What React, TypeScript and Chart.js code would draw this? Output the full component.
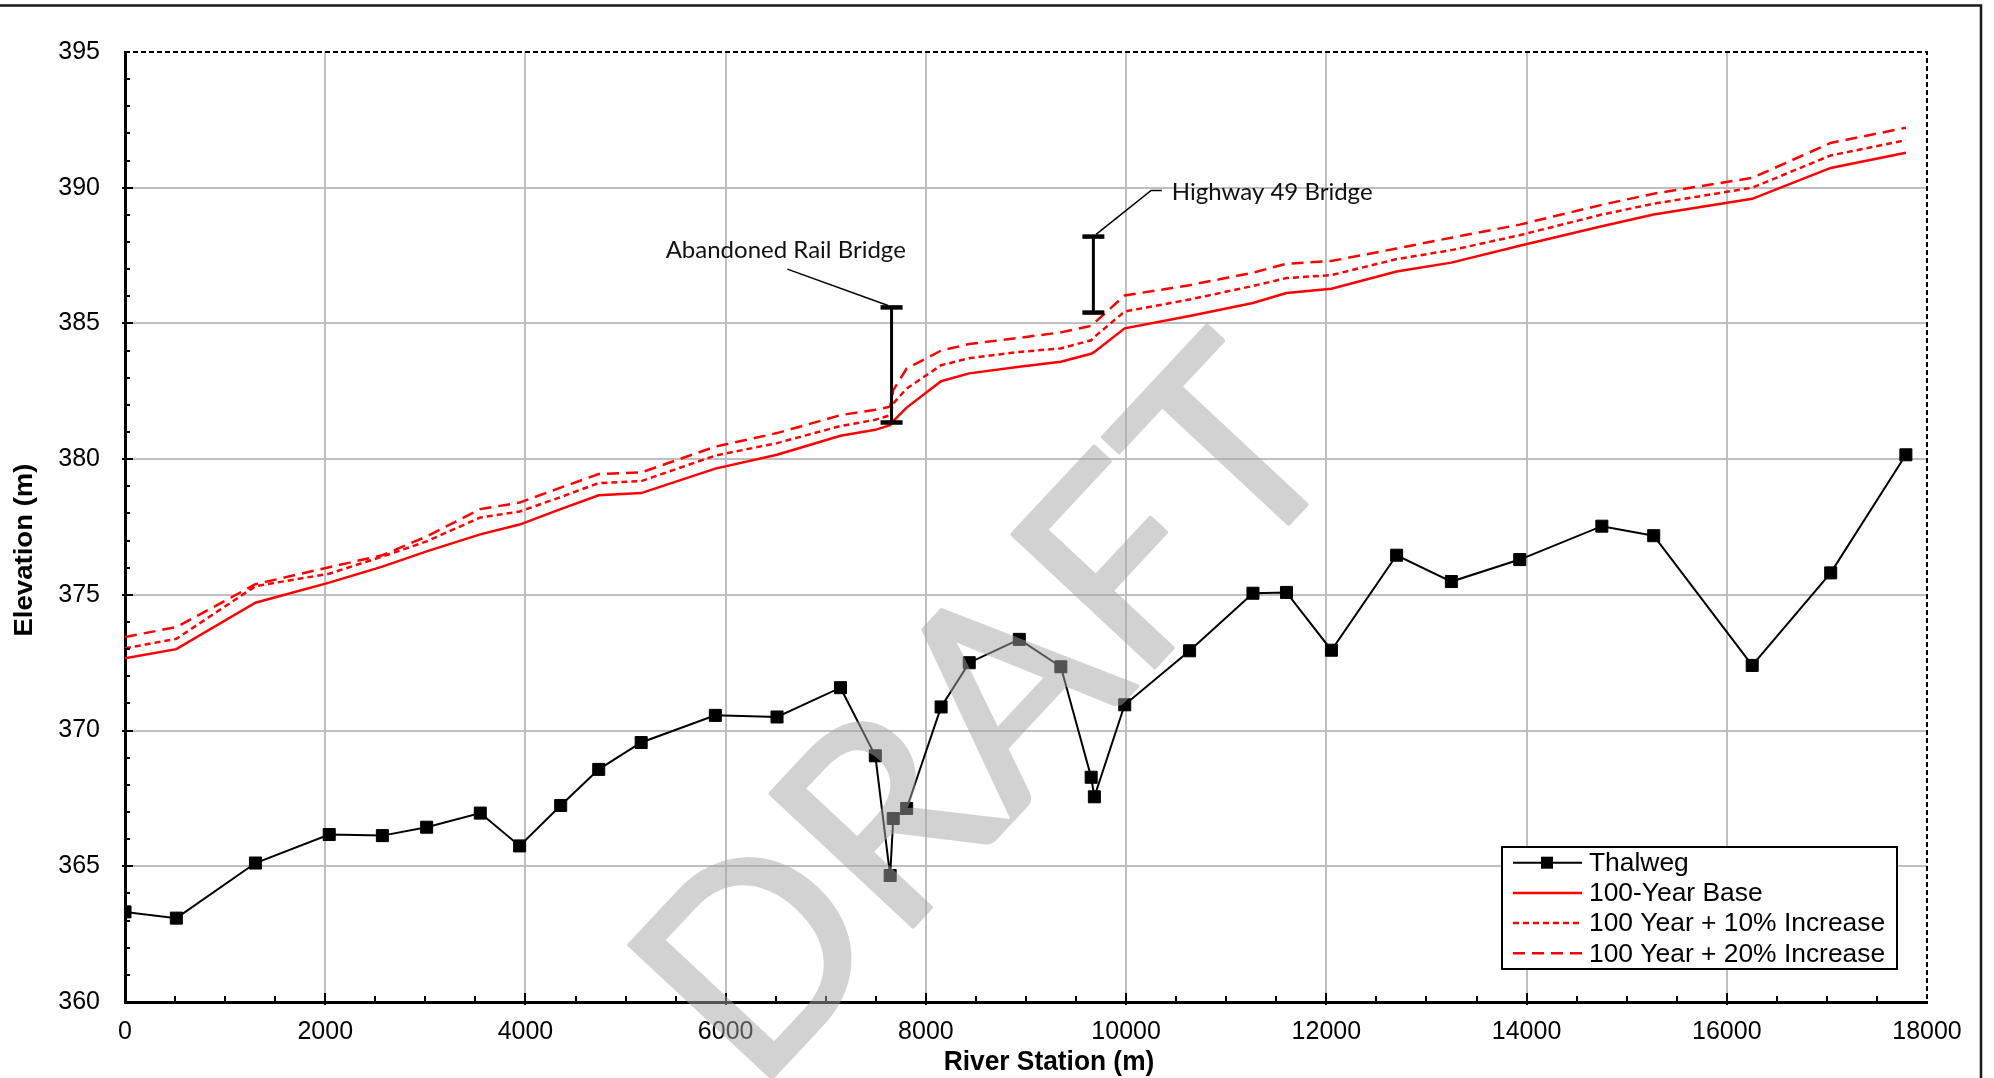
import React, { useEffect, useRef } from 'react';
import { Chart, registerables } from 'chart.js';

Chart.register(...registerables);

// ---------- data ----------
const stations = [0, 513, 1303, 2040, 2571, 3013, 3549, 3942, 4352, 4732, 5156, 5897, 6513, 7147, 7495, 7643, 7674, 7808, 8152, 8433, 8933, 9348, 9651, 9683, 9986, 10634, 11267, 11602, 12051, 12702, 13249, 13932, 14752, 15270, 16254, 17038, 17789];
const thalweg = [363.32, 363.09, 365.12, 366.17, 366.13, 366.44, 366.96, 365.75, 367.24, 368.57, 369.56, 370.56, 370.5, 371.58, 369.07, 364.66, 366.76, 367.13, 370.87, 372.5, 373.36, 372.35, 368.28, 367.56, 370.95, 372.94, 375.06, 375.09, 372.96, 376.46, 375.49, 376.3, 377.53, 377.18, 372.4, 375.81, 380.16];
const base100 = [372.66, 373.0, 374.71, 375.45, 376.04, 376.6, 377.23, 377.59, 378.16, 378.67, 378.75, 379.65, 380.16, 380.86, 381.08, 381.25, 381.4, 381.9, 382.87, 383.16, 383.4, 383.59, 383.88, 383.95, 384.82, 385.27, 385.75, 386.12, 386.28, 386.91, 387.24, 387.86, 388.58, 389.01, 389.59, 390.73, 391.29];
const plus10 = [373.03, 373.38, 375.32, 375.78, 376.41, 376.97, 377.85, 378.07, 378.6, 379.12, 379.19, 380.13, 380.59, 381.22, 381.45, 381.62, 382.05, 382.6, 383.46, 383.72, 383.95, 384.08, 384.38, 384.5, 385.44, 385.88, 386.38, 386.67, 386.78, 387.37, 387.7, 388.25, 389.01, 389.41, 390.0, 391.19, 391.75];
const plus20 = [373.45, 373.81, 375.39, 376.02, 376.46, 377.15, 378.16, 378.4, 378.95, 379.45, 379.51, 380.46, 380.96, 381.62, 381.82, 381.93, 382.54, 383.34, 384.0, 384.24, 384.47, 384.67, 384.91, 385.02, 386.03, 386.41, 386.87, 387.2, 387.3, 387.76, 388.16, 388.64, 389.37, 389.78, 390.36, 391.65, 392.21];

const seriesNames = ['Thalweg', '100-Year Base', '100 Year + 10% Increase', '100 Year + 20% Increase'];

const X_MIN = 0, X_MAX = 18000, X_STEP = 2000, X_MINOR = 500;
const Y_MIN = 360, Y_MAX = 395, Y_STEP = 5, Y_MINOR = 1;
const X_TITLE = 'River Station (m)';
const Y_TITLE = 'Elevation (m)';
const WATERMARK = 'DRAFT';

// bridges (station, low chord, high chord)
const bridgeNames = ['Abandoned Rail Bridge', 'Highway 49 Bridge'];
const bridgeStations = [7657, 9673];
const bridgeLow = [381.35, 385.4];
const bridgeHigh = [385.59, 388.2];
// label anchors & leaders (data coordinates)
const labelX = [6600, 10457];
const labelY = [387.68, 389.83];
const labelAlign: CanvasTextAlign[] = ['center', 'left'];
const leaderRail = [[6616, 387.0], [7622, 385.66]];
const leaderHwy = [[9700, 388.28], [10250, 389.9], [10357, 389.9]];

const ARIAL = "'Liberation Sans', Arial, sans-serif";
const CAL = "Lato, 'Open Sans', sans-serif";

const decor = {
  id: 'decor',
  beforeDraw(chart: any) {
    const { ctx, width, height } = chart;
    ctx.save();
    ctx.fillStyle = '#fff';
    ctx.fillRect(0, 0, width, height);
    ctx.strokeStyle = '#1a1a1a';
    ctx.lineWidth = 2.5;
    ctx.beginPath();
    ctx.moveTo(0, 5.5);
    ctx.lineTo(1981, 5.5);
    ctx.lineTo(1981, height);
    ctx.stroke();
    ctx.restore();
  },
  afterDatasetsDraw(chart: any) {
    const { ctx, chartArea: a, width, height } = chart;
    const xs = chart.scales.x;
    const ys = chart.scales.y;
    const px = (v: number) => xs.getPixelForValue(v);
    const py = (v: number) => ys.getPixelForValue(v);
    ctx.save();

    // dashed top & right frame of plot
    ctx.strokeStyle = '#000';
    ctx.lineWidth = 2;
    ctx.setLineDash([5, 3]);
    ctx.beginPath();
    ctx.moveTo(a.left, a.top);
    ctx.lineTo(a.right, a.top);
    ctx.lineTo(a.right, a.bottom);
    ctx.stroke();
    ctx.setLineDash([]);

    // minor/major ticks
    ctx.lineWidth = 2;
    ctx.beginPath();
    for (let v = Y_MIN + Y_MINOR; v < Y_MAX; v += Y_MINOR) {
      const y = Math.round(py(v));
      const major = Math.abs((v - Y_MIN) % Y_STEP) < 1e-6;
      ctx.moveTo(a.left - (major ? 3 : 0), y);
      ctx.lineTo(a.left + (major ? 8 : 5), y);
    }
    for (let v = X_MIN + X_MINOR; v < X_MAX; v += X_MINOR) {
      const x = Math.round(px(v));
      const major = Math.abs((v - X_MIN) % X_STEP) < 1e-6;
      ctx.moveTo(x, a.bottom + (major ? 3 : 0));
      ctx.lineTo(x, a.bottom - (major ? 9 : 6));
    }
    ctx.stroke();

    // bridges
    ctx.fillStyle = '#000';
    bridgeStations.forEach((st, i) => {
      const x = px(st);
      const yT = py(bridgeHigh[i]);
      const yB = py(bridgeLow[i]);
      ctx.lineWidth = 3;
      ctx.beginPath();
      ctx.moveTo(x, yT);
      ctx.lineTo(x, yB);
      ctx.stroke();
      ctx.fillRect(x - 11, yT - 2.25, 22, 4.5);
      ctx.fillRect(x - 11, yB - 2.25, 22, 4.5);
    });
    ctx.lineWidth = 1.5;
    [leaderRail, leaderHwy].forEach((pts) => {
      ctx.beginPath();
      pts.forEach((p, j) => (j ? ctx.lineTo(px(p[0]), py(p[1])) : ctx.moveTo(px(p[0]), py(p[1]))));
      ctx.stroke();
    });
    ctx.font = `24px ${CAL}`;
    ctx.textBaseline = 'middle';
    ctx.fillStyle = '#111';
    bridgeNames.forEach((n, i) => {
      ctx.textAlign = labelAlign[i];
      ctx.fillText(n, px(labelX[i]), py(labelY[i]));
    });

    // legend
    const lx = 1502, ly = 847, lw = 395, lh = 122;
    ctx.fillStyle = '#fff';
    ctx.fillRect(lx, ly, lw, lh);
    ctx.strokeStyle = '#000';
    ctx.lineWidth = 2;
    ctx.strokeRect(lx, ly, lw, lh);
    chart.data.datasets.forEach((ds: any, i: number) => {
      const ry = 862.7 + i * 30.2;
      ctx.strokeStyle = ds.borderColor;
      ctx.lineWidth = ds.borderWidth;
      ctx.setLineDash(ds.borderDash || []);
      ctx.beginPath();
      ctx.moveTo(1513, ry);
      ctx.lineTo(1582, ry);
      ctx.stroke();
      ctx.setLineDash([]);
      if (ds.pointRadius > 0) {
        ctx.fillStyle = '#000';
        ctx.fillRect(1547 - 6, ry - 6, 12, 12);
      }
      ctx.fillStyle = '#000';
      ctx.font = `26.4px ${ARIAL}`;
      ctx.textAlign = 'left';
      ctx.textBaseline = 'middle';
      ctx.fillText(ds.label, 1589, ry + 1);
    });

    // axis titles
    ctx.fillStyle = '#000';
    ctx.font = `bold 28px ${ARIAL}`;
    ctx.textAlign = 'center';
    ctx.textBaseline = 'alphabetic';
    ctx.save();
    ctx.translate(1049, 1070);
    ctx.scale(0.94, 1);
    ctx.fillText(X_TITLE, 0, 0);
    ctx.restore();
    ctx.save();
    ctx.translate(32, 550);
    ctx.rotate(-Math.PI / 2);
    ctx.font = `bold 26px ${ARIAL}`;
    ctx.scale(1.06, 1);
    ctx.fillText(Y_TITLE, 0, 0);
    ctx.restore();

    // watermark (drawn solid offscreen, composited semi-transparent)
    const off = document.createElement('canvas');
    off.width = width;
    off.height = height;
    const o = off.getContext('2d');
    if (o) {
      o.translate(982, 709);
      o.rotate((-47 * Math.PI) / 180);
      const fs = 272;
      o.font = `${fs}px ${CAL}`;
      o.textAlign = 'center';
      o.textBaseline = 'alphabetic';
      o.fillStyle = 'rgb(166,166,166)';
      o.strokeStyle = 'rgb(166,166,166)';
      o.lineWidth = 4;
      o.lineJoin = 'round';
      o.fillText(WATERMARK, 0, fs * 0.36);
      o.strokeText(WATERMARK, 0, fs * 0.36);
      ctx.globalAlpha = 0.5;
      ctx.drawImage(off, 0, 0);
      ctx.globalAlpha = 1;
    }

    ctx.restore();
  },
};

export default function App() {
  const ref = useRef<HTMLCanvasElement | null>(null);
  useEffect(() => {
    if (!ref.current) return;
    const pts = (ys: number[]) => stations.map((s, i) => ({ x: s, y: ys[i] }));
    const chart = new Chart(ref.current, {
      type: 'line',
      data: {
        datasets: [
          {
            label: seriesNames[0], data: pts(thalweg), borderColor: '#000', backgroundColor: '#000',
            borderWidth: 2, pointStyle: 'rect', pointRadius: 8.5, pointBorderWidth: 1,
            pointBackgroundColor: '#000', pointBorderColor: '#000', tension: 0,
          },
          { label: seriesNames[1], data: pts(base100), borderColor: '#ff0000', borderWidth: 2.5, pointRadius: 0, tension: 0 },
          { label: seriesNames[2], data: pts(plus10), borderColor: '#ff0000', borderWidth: 2.5, borderDash: [6, 4], pointRadius: 0, tension: 0 },
          { label: seriesNames[3], data: pts(plus20), borderColor: '#ff0000', borderWidth: 2.5, borderDash: [12, 7], pointRadius: 0, tension: 0 },
        ] as any,
      },
      options: {
        responsive: false,
        animation: false,
        devicePixelRatio: 1,
        events: [],
        layout: { padding: { top: 52, right: 67, bottom: 0, left: 0 } },
        plugins: { legend: { display: false }, tooltip: { enabled: false } },
        scales: {
          x: {
            type: 'linear', position: 'bottom', min: X_MIN, max: X_MAX,
            afterFit: (s: any) => { s.height = 76; },
            ticks: { stepSize: X_STEP, autoSkip: false, maxRotation: 0, padding: 15, color: '#000', font: { family: ARIAL, size: 25 }, callback: (v: any) => String(v) },
            grid: { drawTicks: false, lineWidth: 2, color: (c: any) => (c.tick && (c.tick.value === X_MIN || c.tick.value === X_MAX) ? 'rgba(0,0,0,0)' : '#bfbfbf') },
            border: { display: true, color: '#000', width: 3 },
          },
          y: {
            type: 'linear', position: 'left', min: Y_MIN, max: Y_MAX,
            afterFit: (s: any) => { s.width = 125; },
            ticks: { stepSize: Y_STEP, autoSkip: false, padding: 25, color: '#000', font: { family: ARIAL, size: 25 }, callback: (v: any) => String(v) },
            grid: { drawTicks: false, lineWidth: 2, color: (c: any) => (c.tick && (c.tick.value === Y_MIN || c.tick.value === Y_MAX) ? 'rgba(0,0,0,0)' : '#bfbfbf') },
            border: { display: true, color: '#000', width: 3 },
          },
        },
      } as any,
      plugins: [decor],
    });
    return () => chart.destroy();
  }, []);
  return (
    <div style={{ position: 'absolute', left: 0, top: 0, width: 1994, height: 1078, background: '#fff', overflow: 'hidden' }}>
      <canvas ref={ref} width={1994} height={1078} style={{ display: 'block' }} />
    </div>
  );
}
